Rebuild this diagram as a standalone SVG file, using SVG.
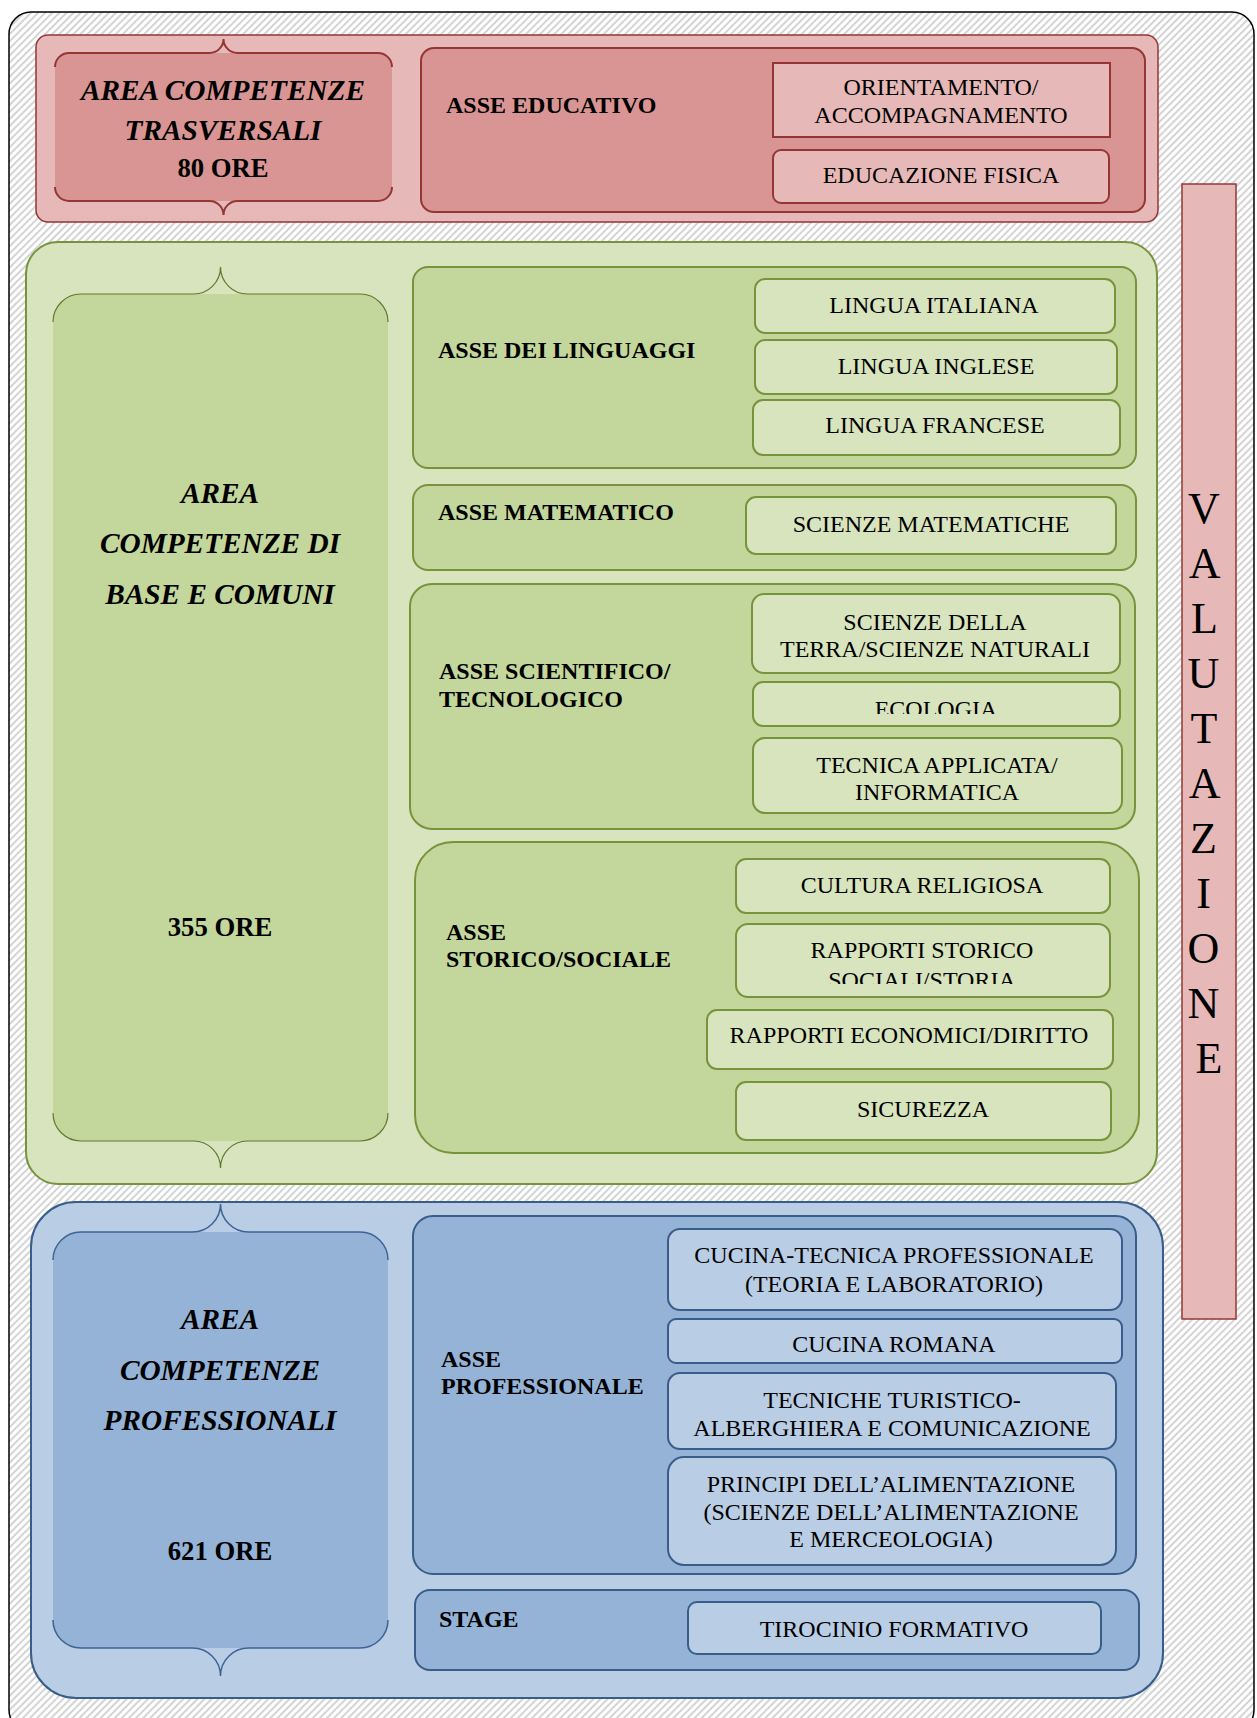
<svg xmlns="http://www.w3.org/2000/svg" width="1257" height="1718" viewBox="0 0 1257 1718">
<defs>
<pattern id="hatch" width="5" height="5" patternUnits="userSpaceOnUse" patternTransform="rotate(45)">
<rect width="5" height="5" fill="#ffffff"/>
<rect x="0" y="0" width="2" height="5" fill="#d4d4d4"/>
</pattern>
<clipPath id="clipEco"><rect x="753" y="682" width="367" height="32"/></clipPath>
<clipPath id="clipSoc"><rect x="736" y="924" width="374" height="60"/></clipPath>
</defs>
<style>
.t{font-family:"Liberation Serif","Times New Roman",serif;font-size:24px;fill:#000}
.c{text-anchor:middle}
.b{font-weight:bold}
.bi{font-weight:bold;font-style:italic;font-size:29.3px}
.ore{font-weight:bold;font-size:26.7px}
.rO{fill:#E6B9B8;stroke:#943634;stroke-width:1.5}
.rA{fill:#D99594;stroke:#943634;stroke-width:2}
.rI{fill:#E6B9B8;stroke:#943634;stroke-width:2}
.gO{fill:#D7E4BD;stroke:#77933C;stroke-width:2}
.gA{fill:#C3D69B;stroke:#77933C;stroke-width:2}
.gI{fill:#D7E4BD;stroke:#77933C;stroke-width:2}
.bO{fill:#B9CDE5;stroke:#385D8A;stroke-width:2}
.bA{fill:#95B3D7;stroke:#385D8A;stroke-width:2}
.bI{fill:#B9CDE5;stroke:#385D8A;stroke-width:2}
.brR{fill:none;stroke:#943634;stroke-width:2}
.brG{fill:none;stroke:#5E7A2E;stroke-width:1.2}
.brB{fill:none;stroke:#3E6496;stroke-width:1.5}
.val{font-family:"Liberation Serif","Times New Roman",serif;font-size:44px;fill:#000;text-anchor:middle}
</style>

<g id="frame">
<rect x="9" y="12" width="1245" height="1720" rx="22" fill="url(#hatch)" stroke="#000" stroke-width="1.5"/>
</g>

<g id="area-trasversali">
<rect class="rO" x="36" y="35" width="1122" height="187" rx="12"/>
<rect x="55" y="53" width="337" height="148" rx="14" fill="#D99594"/>
<path class="brR" d="M55,67 A14,14 0 0 1 69,53 L209.5,53 A14,14 0 0 0 223.5,39 A14,14 0 0 0 237.5,53 L378,53 A14,14 0 0 1 392,67"/>
<path class="brR" d="M55,187 A14,14 0 0 0 69,201 L209.5,201 A14,14 0 0 1 223.5,215 A14,14 0 0 1 237.5,201 L378,201 A14,14 0 0 0 392,187"/>
<text class="t c bi" x="223" y="100">AREA COMPETENZE</text>
<text class="t c bi" x="223" y="140">TRASVERSALI</text>
<text class="t c ore" x="223" y="177">80 ORE</text>
</g>

<g id="asse-educativo">
<rect class="rA" x="421" y="48" width="724" height="164" rx="13"/>
<text class="t b" x="446" y="113">ASSE EDUCATIVO</text>
</g>
<g id="orientamento">
<rect class="rI" x="773" y="63" width="337" height="74"/>
<text class="t c" x="941" y="95">ORIENTAMENTO/</text>
<text class="t c" x="941" y="123">ACCOMPAGNAMENTO</text>
</g>
<g id="educazione-fisica">
<rect class="rI" x="773" y="150" width="336" height="53" rx="8"/>
<text class="t c" x="941" y="183">EDUCAZIONE FISICA</text>
</g>

<g id="valutazione">
<rect x="1182" y="184" width="54" height="1135" fill="#E6B9B8" stroke="#953735" stroke-width="1.5"/>
<text class="val">
<tspan x="1209" y="523">V</tspan>
<tspan x="1209" y="578">A</tspan>
<tspan x="1209" y="633">L</tspan>
<tspan x="1209" y="688">U</tspan>
<tspan x="1209" y="743">T</tspan>
<tspan x="1209" y="798">A</tspan>
<tspan x="1209" y="853">Z</tspan>
<tspan x="1209" y="908">I</tspan>
<tspan x="1209" y="963">O</tspan>
<tspan x="1209" y="1018">N</tspan>
<tspan x="1209" y="1073">E</tspan>
</text>
</g>

<g id="area-base">
<rect class="gO" x="26" y="242" width="1131" height="942" rx="32"/>
<rect x="53" y="294" width="335" height="847" rx="28" fill="#C3D69B"/>
<path class="brG" d="M53,322 A28,28 0 0 1 81,294 L193.5,294 A27,27 0 0 0 220.5,267 A27,27 0 0 0 247.5,294 L360,294 A28,28 0 0 1 388,322"/>
<path class="brG" d="M53,1113 A28,28 0 0 0 81,1141 L193.5,1141 A27,27 0 0 1 220.5,1168 A27,27 0 0 1 247.5,1141 L360,1141 A28,28 0 0 0 388,1113"/>
<text class="t c bi" x="220" y="503">AREA</text>
<text class="t c bi" x="220" y="553">COMPETENZE DI</text>
<text class="t c bi" x="220" y="604">BASE E COMUNI</text>
<text class="t c ore" x="220" y="936">355 ORE</text>
</g>

<g id="asse-linguaggi">
<rect class="gA" x="413" y="267" width="723" height="201" rx="15"/>
<text class="t b" x="438" y="358">ASSE DEI LINGUAGGI</text>
</g>
<g id="lingua-italiana">
<rect class="gI" x="755" y="279" width="360" height="54" rx="10"/>
<text class="t c" x="934" y="313">LINGUA ITALIANA</text>
</g>
<g id="lingua-inglese">
<rect class="gI" x="755" y="340" width="362" height="54" rx="10"/>
<text class="t c" x="936" y="374">LINGUA INGLESE</text>
</g>
<g id="lingua-francese">
<rect class="gI" x="753" y="400" width="367" height="55" rx="10"/>
<text class="t c" x="935" y="433">LINGUA FRANCESE</text>
</g>

<g id="asse-matematico">
<rect class="gA" x="413" y="485" width="723" height="85" rx="15"/>
<text class="t b" x="438" y="520">ASSE MATEMATICO</text>
</g>
<g id="scienze-matematiche">
<rect class="gI" x="746" y="497" width="370" height="57" rx="10"/>
<text class="t c" x="931" y="532">SCIENZE MATEMATICHE</text>
</g>

<g id="asse-scientifico">
<rect class="gA" x="410" y="584" width="725" height="245" rx="22"/>
<text class="t b" x="439" y="679">ASSE SCIENTIFICO/</text>
<text class="t b" x="439" y="707">TECNOLOGICO</text>
</g>
<g id="scienze-terra">
<rect class="gI" x="752" y="594" width="368" height="79" rx="12"/>
<text class="t c" x="935" y="630">SCIENZE DELLA</text>
<text class="t c" x="935" y="657">TERRA/SCIENZE NATURALI</text>
</g>
<g id="ecologia">
<rect class="gI" x="753" y="682" width="367" height="44" rx="10"/>
<text class="t c" x="936" y="717" clip-path="url(#clipEco)">ECOLOGIA</text>
</g>
<g id="tecnica-applicata">
<rect class="gI" x="753" y="738" width="369" height="75" rx="12"/>
<text class="t c" x="937" y="773">TECNICA APPLICATA/</text>
<text class="t c" x="937" y="800">INFORMATICA</text>
</g>

<g id="asse-storico">
<rect class="gA" x="415" y="842" width="724" height="311" rx="38"/>
<text class="t b" x="446" y="940">ASSE</text>
<text class="t b" x="446" y="967">STORICO/SOCIALE</text>
</g>
<g id="cultura-religiosa">
<rect class="gI" x="736" y="859" width="374" height="54" rx="10"/>
<text class="t c" x="922" y="893">CULTURA RELIGIOSA</text>
</g>
<g id="rapporti-storico">
<rect class="gI" x="736" y="924" width="374" height="73" rx="12"/>
<text class="t c" x="922" y="958">RAPPORTI STORICO</text>
<text class="t c" x="922" y="988" clip-path="url(#clipSoc)">SOCIALI/STORIA</text>
</g>
<g id="rapporti-economici">
<rect class="gI" x="707" y="1010" width="406" height="59" rx="10"/>
<text class="t c" x="909" y="1043">RAPPORTI ECONOMICI/DIRITTO</text>
</g>
<g id="sicurezza">
<rect class="gI" x="736" y="1082" width="375" height="58" rx="10"/>
<text class="t c" x="923" y="1117">SICUREZZA</text>
</g>

<g id="area-professionali">
<rect class="bO" x="31" y="1202" width="1132" height="496" rx="45"/>
<rect x="53" y="1232" width="335" height="416" rx="28" fill="#95B3D7"/>
<path class="brB" d="M53,1260 A28,28 0 0 1 81,1232 L192.5,1232 A28,28 0 0 0 220.5,1204 A28,28 0 0 0 248.5,1232 L360,1232 A28,28 0 0 1 388,1260"/>
<path class="brB" d="M53,1620 A28,28 0 0 0 81,1648 L192.5,1648 A28,28 0 0 1 220.5,1676 A28,28 0 0 1 248.5,1648 L360,1648 A28,28 0 0 0 388,1620"/>
<text class="t c bi" x="220" y="1329">AREA</text>
<text class="t c bi" x="220" y="1380">COMPETENZE</text>
<text class="t c bi" x="220" y="1430">PROFESSIONALI</text>
<text class="t c ore" x="220" y="1560">621 ORE</text>
</g>

<g id="asse-professionale">
<rect class="bA" x="413" y="1216" width="723" height="358" rx="20"/>
<text class="t b" x="441" y="1367">ASSE</text>
<text class="t b" x="441" y="1394">PROFESSIONALE</text>
</g>
<g id="cucina-tecnica">
<rect class="bI" x="668" y="1229" width="454" height="81" rx="12"/>
<text class="t c" x="894" y="1263">CUCINA-TECNICA PROFESSIONALE</text>
<text class="t c" x="894" y="1292">(TEORIA E LABORATORIO)</text>
</g>
<g id="cucina-romana">
<rect class="bI" x="668" y="1319" width="454" height="44" rx="8"/>
<text class="t c" x="894" y="1352">CUCINA ROMANA</text>
</g>
<g id="tecniche-turistico">
<rect class="bI" x="668" y="1373" width="448" height="76" rx="12"/>
<text class="t c" x="892" y="1408">TECNICHE TURISTICO-</text>
<text class="t c" x="892" y="1436">ALBERGHIERA E COMUNICAZIONE</text>
</g>
<g id="principi-alimentazione">
<rect class="bI" x="668" y="1457" width="448" height="108" rx="16"/>
<text class="t c" x="891" y="1492">PRINCIPI DELL’ALIMENTAZIONE</text>
<text class="t c" x="891" y="1520">(SCIENZE DELL’ALIMENTAZIONE</text>
<text class="t c" x="891" y="1547">E MERCEOLOGIA)</text>
</g>

<g id="stage">
<rect class="bA" x="415" y="1590" width="724" height="80" rx="15"/>
<text class="t b" x="439" y="1627">STAGE</text>
</g>
<g id="tirocinio">
<rect class="bI" x="688" y="1602" width="413" height="52" rx="9"/>
<text class="t c" x="894" y="1637">TIROCINIO FORMATIVO</text>
</g>
</svg>
